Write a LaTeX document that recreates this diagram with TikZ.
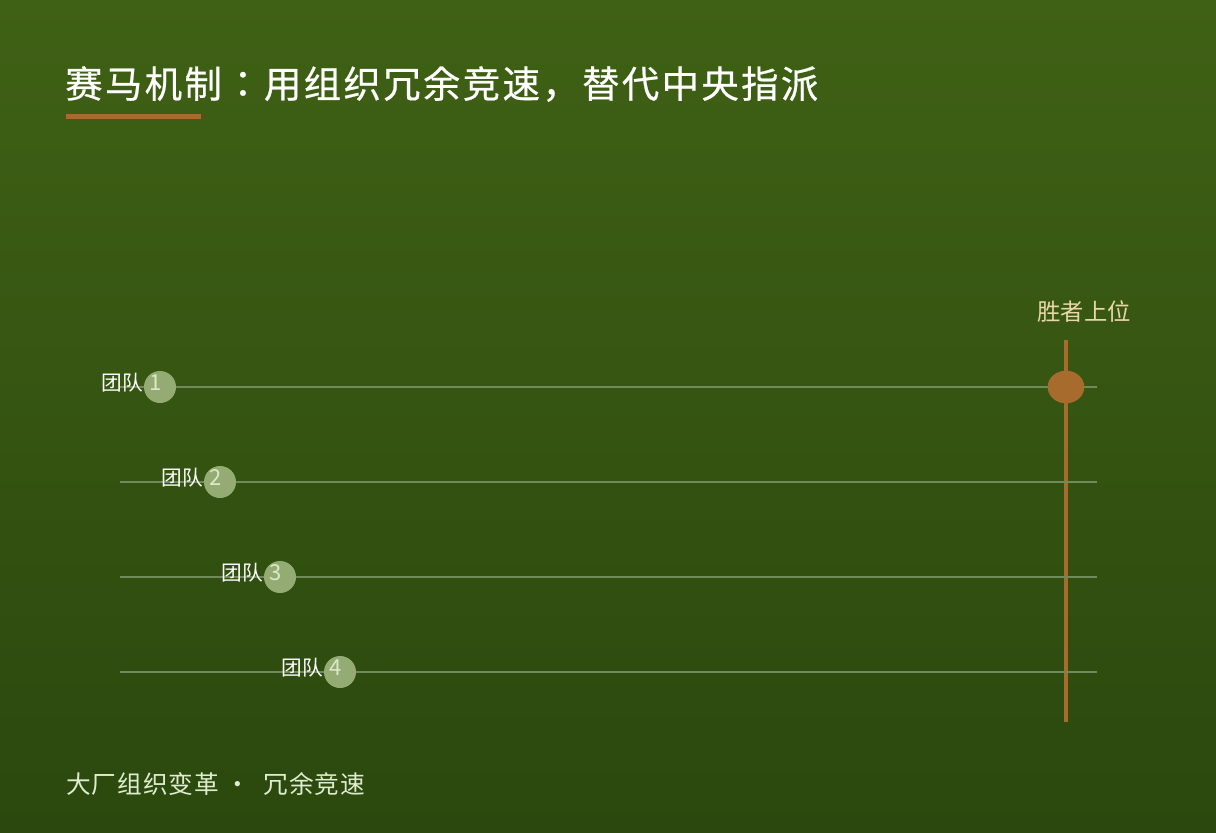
\documentclass[tikz,border=0pt]{standalone}
\usepackage{fontspec}
\usetikzlibrary{shapes.geometric}
\setmainfont{Noto Sans CJK SC}
\newfontfamily\cjk{Noto Sans CJK SC}
\newfontfamily\cjktitle[LetterSpace=6.5,FakeBold=0.6]{Noto Sans CJK JP}
\newfontfamily\cjkfoot[LetterSpace=4]{Noto Sans CJK SC}
\definecolor{bgtop}{RGB}{63,97,21}
\definecolor{bgbot}{RGB}{43,72,14}
\definecolor{accent}{RGB}{168,107,46}
\definecolor{lanecol}{RGB}{112,138,92}
\definecolor{dotcol}{RGB}{148,172,116}
\definecolor{numcol}{RGB}{220,232,200}
\definecolor{wintext}{RGB}{232,216,168}
\definecolor{foottext}{RGB}{224,236,208}
\begin{document}
\begin{tikzpicture}[x=0.75pt,y=-0.75pt,
  lane/.style={draw=lanecol,line width=1.5pt},
  dot/.style={circle,fill=dotcol,minimum size=24pt,inner sep=0pt},
  teamlabel/.style={anchor=east,text=white,font=\cjk\fontsize{15.5pt}{17pt}\selectfont,inner sep=0pt},
  numlabel/.style={text=numcol,font=\cjk\fontsize{16.5pt}{18pt}\selectfont,inner sep=0pt}]
\shade[top color=bgtop,bottom color=bgbot] (0,0) rectangle (1216,832);
\useasboundingbox (0,0) rectangle (1216,832);
% title
\node[anchor=west,inner sep=0pt,text=white,font=\cjktitle\fontsize{28pt}{32pt}\selectfont] (title) at (65,84) {赛马机制：用组织冗余竞速，替代中央指派};
\fill[accent] (66,114) rectangle (201,119);
% winner line
\coordinate (vtop) at (1066,340);
\coordinate (vbot) at (1066,722);
\draw[accent,line width=2.3pt] (vtop) -- (vbot);
% lanes
\foreach \i/\y/\x in {1/387/160,2/482/220,3/577/280,4/672/340}{
  \coordinate (ls\i) at (120,\y);
  \coordinate (le\i) at (1097,\y);
  \draw[lane] (ls\i) -- (le\i);
  \node[dot] (d\i) at (\x,\y) {};
  \node[teamlabel] (t\i) at ([xshift=-0.5pt,yshift=3pt]d\i.west) {团队};
  \node[numlabel] (n\i) at ([xshift=-3.3pt,yshift=3pt]d\i.center) {\i};
}
\node[ellipse,fill=accent,minimum width=27.5pt,minimum height=24.5pt,inner sep=0pt] (win) at (1066,387) {};
\node[text=wintext,font=\cjk\fontsize{17.5pt}{20pt}\selectfont,inner sep=0pt] (wl) at (1084,312) {胜者上位};
% footer
\node[anchor=west,inner sep=0pt,text=foottext,font=\cjkfoot\fontsize{18.5pt}{20pt}\selectfont] (foot) at (66,784) {大厂组织变革 ·\ \ 冗余竞速};
\end{tikzpicture}
\end{document}
